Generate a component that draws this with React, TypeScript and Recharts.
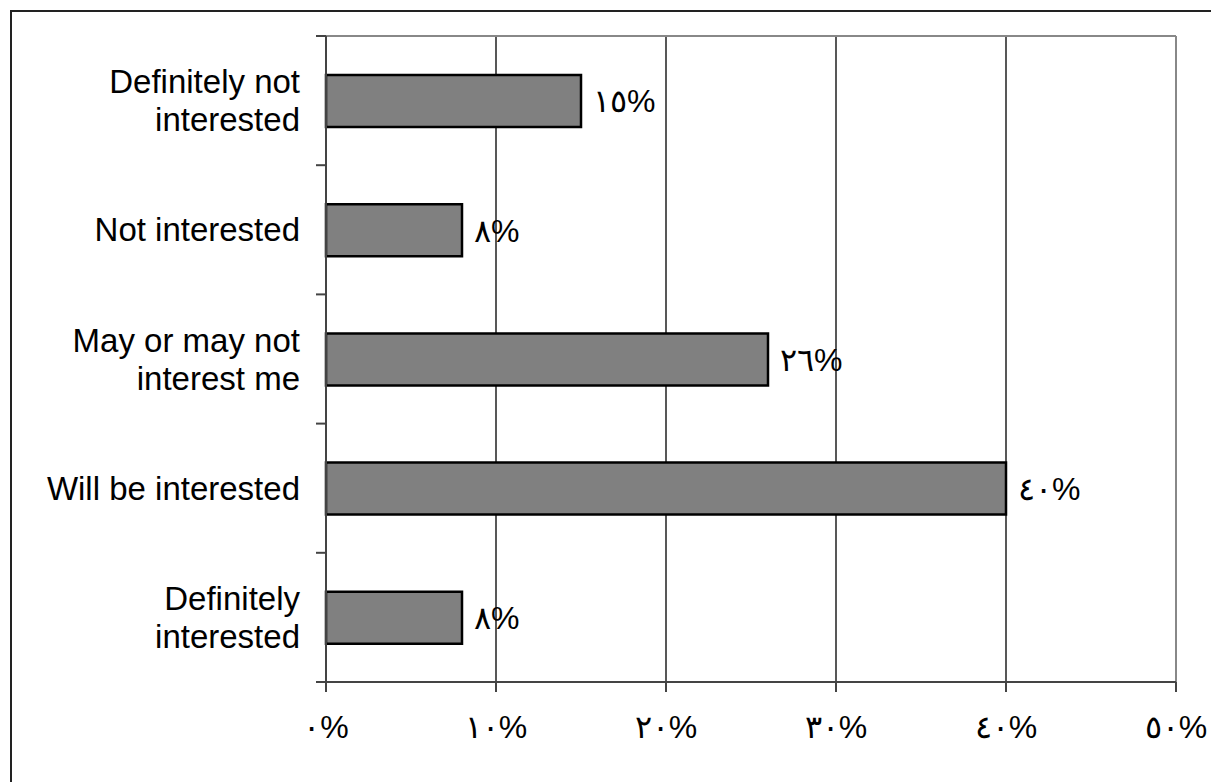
import React from 'react'
import { BarChart, Bar, XAxis, YAxis, CartesianGrid, LabelList } from 'recharts'

// Survey answers, top to bottom as shown
const categories = [
  'Definitely not interested',
  'Not interested',
  'May or may not interest me',
  'Will be interested',
  'Definitely interested',
]
const percents = [15, 8, 26, 40, 8]
const xTicks = [0, 10, 20, 30, 40, 50]

// how each category label is broken into lines
const labelLines: Record<string, string[]> = {
  'Definitely not interested': ['Definitely not', 'interested'],
  'Not interested': ['Not interested'],
  'May or may not interest me': ['May or may not', 'interest me'],
  'Will be interested': ['Will be interested'],
  'Definitely interested': ['Definitely', 'interested'],
}

const data = categories.map((name, i) => ({ name, value: percents[i] }))

const FONT = '"Liberation Sans", Arial, sans-serif'
const AR_DIGITS = '٠١٢٣٤٥٦٧٨٩'
const toArabic = (v: number) =>
  String(v).replace(/\d/g, (d) => AR_DIGITS[Number(d)]) + '%'

const W = 1211
const H = 774
const MARGIN = { top: 28, right: 43, bottom: 0, left: 0 }
const X_AXIS_H = 100
const Y_AXIS_W = 318
const plotH = H - MARGIN.top - MARGIN.bottom - X_AXIS_H
const band = plotH / categories.length

const CategoryTick = (props: any) => {
  const { x, y, payload, index } = props
  const lines = labelLines[payload.value] || [payload.value]
  const lh = 38
  const start = y - ((lines.length - 1) * lh) / 2
  return (
    <g>
      <line x1={x - 10} x2={x} y1={y - band / 2} y2={y - band / 2} stroke="#444" strokeWidth={2} />
      {index === categories.length - 1 && (
        <line x1={x - 10} x2={x} y1={y + band / 2} y2={y + band / 2} stroke="#444" strokeWidth={2} />
      )}
      <text x={x - 26} y={start} textAnchor="end" fontFamily={FONT} fontSize={33} fill="#000">
        {lines.map((l: string, i: number) => (
          <tspan key={i} x={x - 26} y={start + i * lh} dy="0.35em">
            {l}
          </tspan>
        ))}
      </text>
    </g>
  )
}

export default function App() {
  return (
    <div style={{ position: 'relative', width: W, height: H }}>
      <div
        style={{
          position: 'absolute',
          left: 2,
          top: 2,
          right: 0,
          bottom: 0,
          borderLeft: '2px solid #222',
          borderTop: '2px solid #222',
        }}
      />
      <BarChart
        width={W}
        height={H}
        data={data}
        layout="vertical"
        margin={MARGIN}
        barCategoryGap={0}
        style={{ position: 'absolute', left: 0, top: 0 }}
      >
        <CartesianGrid vertical horizontal={false} stroke="#111" strokeWidth={1.4} />
        <CartesianGrid
          horizontal
          vertical
          stroke="#888"
          strokeWidth={2}
          horizontalCoordinatesGenerator={({ offset }: any) => [offset.top]}
          verticalCoordinatesGenerator={({ offset }: any) => [offset.left + offset.width]}
        />
        <XAxis
          type="number"
          domain={[0, 50]}
          ticks={xTicks}
          height={X_AXIS_H}
          tickFormatter={toArabic}
          tick={{ fontFamily: FONT, fontSize: 32, fill: '#000' }}
          tickSize={10}
          tickMargin={23}
          axisLine={{ stroke: '#444', strokeWidth: 2 }}
          tickLine={{ stroke: '#444', strokeWidth: 2 }}
          interval={0}
        />
        <YAxis
          type="category"
          dataKey="name"
          width={Y_AXIS_W}
          tick={<CategoryTick />}
          tickLine={false}
          tickSize={0}
          tickMargin={0}
          axisLine={{ stroke: '#444', strokeWidth: 2 }}
          interval={0}
        />
        <Bar dataKey="value" fill="#808080" stroke="#000" strokeWidth={2.5} barSize={52} isAnimationActive={false}>
          <LabelList
            dataKey="value"
            position="right"
            offset={12}
            formatter={(v: any) => toArabic(Number(v))}
            style={{ fontFamily: FONT, fontSize: 32, fill: '#000' }}
          />
        </Bar>
      </BarChart>
    </div>
  )
}
